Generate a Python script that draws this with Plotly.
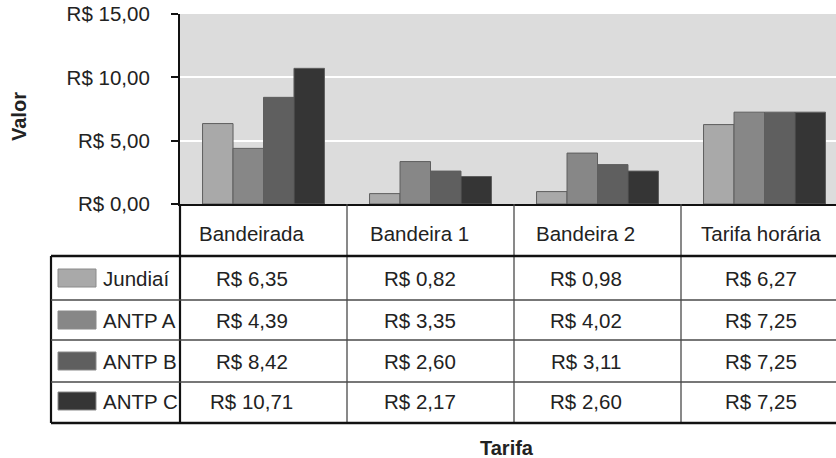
import plotly.graph_objects as go

# --- data -------------------------------------------------------------
categories = ["Bandeirada", "Bandeira 1", "Bandeira 2", "Tarifa horária"]
series_names = ["Jundiaí", "ANTP A", "ANTP B", "ANTP C"]
jundiai = [6.35, 0.82, 0.98, 6.27]
antp_a = [4.39, 3.35, 4.02, 7.25]
antp_b = [8.42, 2.60, 3.11, 7.25]
antp_c = [10.71, 2.17, 2.60, 7.25]
y_tickvals = [0, 5, 10, 15]
y_ticktext = ["R$ 0,00", "R$ 5,00", "R$ 10,00", "R$ 15,00"]

series_values = [jundiai, antp_a, antp_b, antp_c]
series_colors = ["#a9a9a9", "#878787", "#5f5f5f", "#353535"]

# --- layout geometry (pixels) -----------------------------------------
W, H = 836, 458
PLOT_L, PLOT_T, PLOT_B = 180, 14, 204
PLOT_W = W - PLOT_L
PLOT_H = PLOT_B - PLOT_T
FONT = "Liberation Sans, Arial, Helvetica, sans-serif"
TXT = "#222222"
FS = 20.5


def px_x(px):
    return (px - PLOT_L) / PLOT_W


def px_y(py):
    return (PLOT_B - py) / PLOT_H


def money(v):
    return "R$ " + f"{v:.2f}".replace(".", ",")


fig = go.Figure()
for name, vals, col in zip(series_names, series_values, series_colors):
    fig.add_trace(go.Bar(
        x=list(range(len(categories))), y=vals, name=name,
        marker=dict(color=col, line=dict(color="#5e5e5e", width=1)),
        showlegend=False, hoverinfo="skip",
    ))

shapes = []
annotations = []

# header row / table rows (pixel y positions)
header_y = 233
row_tops = [256, 300, 340, 382]
row_bottom = 423
row_centers = [278, 320, 361, 401]
col_shift = [-12, -11, -12, -4]
legend_left = 51

# vertical separators between categories
for j in range(len(categories) - 1):
    shapes.append(dict(type="line", xref="x", yref="paper",
                       x0=j + 0.5, x1=j + 0.5, y0=px_y(PLOT_B), y1=px_y(row_bottom),
                       line=dict(color="#4a4a4a", width=1.3)))
# continuation of the value axis through the table
shapes.append(dict(type="line", xref="paper", yref="paper",
                   x0=0, x1=0, y0=px_y(PLOT_B), y1=px_y(row_bottom),
                   line=dict(color="#111111", width=2.2)))
# left border of legend column
shapes.append(dict(type="line", xref="paper", yref="paper",
                   x0=px_x(legend_left), x1=px_x(legend_left),
                   y0=px_y(row_tops[0]), y1=px_y(row_bottom),
                   line=dict(color="#111111", width=2.2)))
# horizontal rules
shapes.append(dict(type="line", xref="paper", yref="paper",
                   x0=px_x(legend_left), x1=1, y0=px_y(row_tops[0]), y1=px_y(row_tops[0]),
                   line=dict(color="#111111", width=2.4)))
for t in row_tops[1:]:
    shapes.append(dict(type="line", xref="paper", yref="paper",
                       x0=px_x(legend_left), x1=1, y0=px_y(t), y1=px_y(t),
                       line=dict(color="#4a4a4a", width=1.3)))
shapes.append(dict(type="line", xref="paper", yref="paper",
                   x0=px_x(legend_left), x1=1, y0=px_y(row_bottom), y1=px_y(row_bottom),
                   line=dict(color="#111111", width=2.4)))

# column headers
for j, cat in enumerate(categories):
    annotations.append(dict(text=cat, xref="x", yref="paper", x=j, xshift=col_shift[j],
                            y=px_y(header_y), showarrow=False, xanchor="center", yanchor="middle",
                            font=dict(family=FONT, size=FS, color=TXT)))

# legend swatches, names and values
for i, (name, vals, col) in enumerate(zip(series_names, series_values, series_colors)):
    cy = row_centers[i]
    shapes.append(dict(type="rect", xref="paper", yref="paper",
                       x0=px_x(58), x1=px_x(96), y0=px_y(cy - 9), y1=px_y(cy + 9),
                       fillcolor=col, line=dict(color="#8a8a8a", width=1)))
    annotations.append(dict(text=name, xref="paper", yref="paper", x=px_x(101), y=px_y(cy),
                            showarrow=False, xanchor="left", yanchor="middle",
                            font=dict(family=FONT, size=FS, color=TXT)))
    for j, v in enumerate(vals):
        annotations.append(dict(text=money(v), xref="x", yref="paper", x=j, xshift=col_shift[j],
                                y=px_y(cy), showarrow=False, xanchor="center", yanchor="middle",
                                font=dict(family=FONT, size=FS, color=TXT)))

# axis titles
annotations.append(dict(text="<b>Tarifa</b>", xref="paper", yref="paper", x=px_x(507), y=px_y(448),
                        showarrow=False, xanchor="center", yanchor="middle",
                        font=dict(family=FONT, size=20, color=TXT)))
annotations.append(dict(text="<b>Valor</b>", xref="paper", yref="paper", x=px_x(19), y=px_y(117),
                        showarrow=False, xanchor="center", yanchor="middle", textangle=-90,
                        font=dict(family=FONT, size=20, color=TXT)))

fig.update_layout(
    width=W, height=H, autosize=False,
    margin=dict(l=PLOT_L, r=0, t=PLOT_T, b=H - PLOT_B, pad=0),
    paper_bgcolor="white", plot_bgcolor="#dcdcdc",
    barmode="group", bargap=0.27, bargroupgap=0,
    shapes=shapes, annotations=annotations,
    font=dict(family=FONT, size=FS, color=TXT),
)
fig.update_xaxes(range=[-0.5, -0.5 + PLOT_W / 167.0], showticklabels=False, ticks="",
                 showgrid=False, zeroline=False, showline=True, linecolor="#111111",
                 linewidth=2.2, fixedrange=True)
fig.update_yaxes(range=[0, 15], tickvals=y_tickvals, ticktext=y_ticktext,
                 ticks="outside", ticklen=7, tickwidth=1.5, tickcolor="#111111",
                 ticklabelstandoff=17,
                 showgrid=True, gridcolor="white", gridwidth=1.6, zeroline=False,
                 showline=True, linecolor="#111111", linewidth=2.2,
                 tickfont=dict(family=FONT, size=FS, color=TXT), fixedrange=True)

fig.write_html("out.html")
